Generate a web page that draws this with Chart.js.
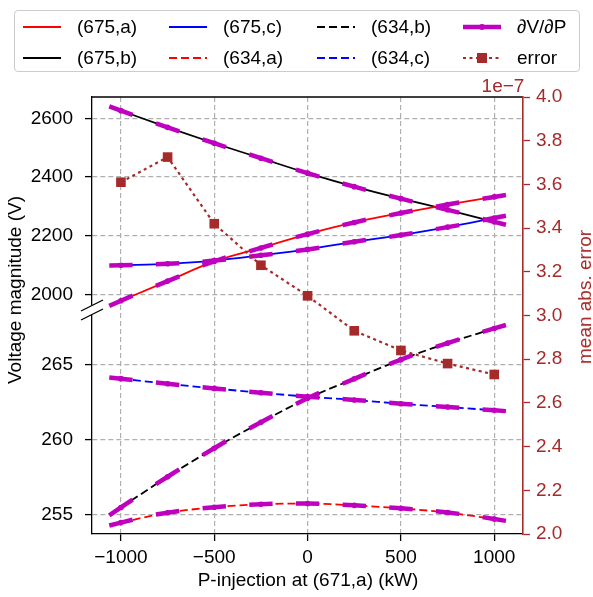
<!DOCTYPE html>
<html>
<head>
<meta charset="utf-8">
<script src="https://cdn.jsdelivr.net/npm/chart.js@4.4.1/dist/chart.umd.min.js"></script>
<style>
  body { margin: 0; background: #fff; font-family: "Liberation Sans", Arial, sans-serif; }
  #wrap { position: relative; width: 593px; height: 597px; overflow: hidden; }
  #chart { position: absolute; left: 0; top: 0; }
  #legend { position: absolute; left: 14px; top: 10px; width: 566px; height: 62px; box-sizing: border-box;
            border: 1px solid #cccccc; border-radius: 4px; background: rgba(255,255,255,0.8); }
  .item { position: absolute; height: 20px; }
  .item svg { position: absolute; left: 0; top: 0; }
  .item span { position: absolute; left: 54px; top: 0; font-size: 19px; line-height: 20px; white-space: nowrap; color: #000; }
  .lbl { position: absolute; font-size: 19px; line-height: 20px; white-space: nowrap; }
</style>
</head>
<body>
<div id="wrap">
  <canvas id="chart" width="593" height="597"></canvas>
  <div id="legend"></div>
  <div class="lbl" id="ylab" style="left:15px; top:290px; transform: translate(-50%,-50%) rotate(-90deg);">Voltage magnitude (V)</div>
  <div class="lbl" id="ylab2" style="left:585px; top:297px; color:#a52a2a; transform: translate(-50%,-50%) rotate(-90deg);">mean abs. error</div>
  <div class="lbl" id="xlab" style="left:308px; top:580px; transform: translate(-50%,-50%);">P-injection at (671,a) (kW)</div>
  <div class="lbl" id="offs" style="left:503px; top:86px; color:#a52a2a; transform: translate(-50%,-50%);">1e&minus;7</div>
</div>
<script>
// --- DADOS ---
const xVals = [-1000, -750, -500, -250, 0, 250, 500, 750, 1000];

// feeder 675 (painel de cima)
const v675a = [1978, 2045, 2112, 2158, 2205, 2245, 2277, 2306, 2332];
const v675b = [2626, 2569, 2515, 2464, 2413, 2367, 2326, 2288, 2247];
const v675c = [2099, 2104, 2115, 2133, 2153, 2179, 2202, 2229, 2260];

// feeder 634 (painel de baixo)
const v634a = [254.49, 255.15, 255.51, 255.71, 255.76, 255.64, 255.44, 255.16, 254.73];
const v634b = [255.50, 257.55, 259.45, 261.18, 262.78, 264.08, 265.36, 266.46, 267.44];
const v634c = [264.09, 263.75, 263.44, 263.15, 262.89, 262.67, 262.42, 262.20, 261.98];

const d675a = [0.28, 0.26, 0.22, 0.19, 0.165, 0.145, 0.125, 0.115, 0.105];
const d675b = [-0.235, -0.222, -0.21, -0.204, -0.194, -0.174, -0.158, -0.155, -0.16];
const d675c = [0.01, 0.03, 0.058, 0.075, 0.09, 0.097, 0.1, 0.11, 0.12];
const d634a = [0.0031, 0.0019, 0.0011, 0.0005, -0.0002, -0.0006, -0.001, -0.0014, -0.002];
const d634b = [0.0084, 0.0079, 0.0074, 0.0067, 0.006, 0.0053, 0.0047, 0.0041, 0.0037];
const d634c = [-0.00136, -0.0013, -0.0012, -0.0011, -0.001, -0.00095, -0.0009, -0.00088, -0.00088];

const errVals = [3.61e-7, 3.725e-7, 3.42e-7, 3.23e-7, 3.09e-7, 2.93e-7, 2.84e-7, 2.78e-7, 2.73e-7];

const xTicks = [-1000, -500, 0, 500, 1000];
const topTicks = [2000, 2200, 2400, 2600];
const botTicks = [255, 260, 265];
const errTicks = [2.0e-7, 2.2e-7, 2.4e-7, 2.6e-7, 2.8e-7, 3.0e-7, 3.2e-7, 3.4e-7, 3.6e-7, 3.8e-7, 4.0e-7];

const HALF = 62.5; // meia largura do segmento tangente (kW)

// --- CORES / ESTILO ---
const BROWN = '#a52a2a';
const MAG = '#bf00bf';
const FONT = { family: '"Liberation Sans", Arial, sans-serif', size: 19 };

// --- LEGENDA (HTML) ---
const legendItems = [
  { label: '(675,a)', color: '#ff0000', dash: '' },
  { label: '(675,b)', color: '#000000', dash: '' },
  { label: '(675,c)', color: '#0000ff', dash: '' },
  { label: '(634,a)', color: '#ff0000', dash: '8,4' },
  { label: '(634,b)', color: '#000000', dash: '8,4' },
  { label: '(634,c)', color: '#0000ff', dash: '8,4' },
  { label: '\u2202V/\u2202P', color: MAG, dash: '', width: 4.5, marker: 'circle' },
  { label: 'error', color: BROWN, dash: '3,3.5', marker: 'square' }
];
const colX = [22, 168, 316, 462];
const rowY = [16, 47];

const legendBox = document.getElementById('legend');
legendItems.forEach((it, k) => {
  const col = Math.floor(k / 2), row = k % 2;
  const div = document.createElement('div');
  div.className = 'item';
  div.style.left = (colX[col] - 14) + 'px';
  div.style.top = (rowY[row] - 10) + 'px';
  let mk = '';
  if (it.marker === 'circle') mk = `<circle cx="19" cy="10" r="3" fill="${it.color}"/>`;
  if (it.marker === 'square') mk = `<rect x="14" y="5" width="10" height="10" fill="${it.color}"/>`;
  div.innerHTML = `<svg width="40" height="20"><line x1="0" y1="10" x2="38" y2="10" stroke="${it.color}"
      stroke-width="${it.width || 2}" ${it.dash ? `stroke-dasharray="${it.dash}"` : ''}/>${mk}</svg><span>${it.label}</span>`;
  legendBox.appendChild(div);
});

// --- DATASETS ---
const pts = vals => xVals.map((x, i) => ({ x: x, y: vals[i] }));

function tangentes(pares) {
  const out = [];
  pares.forEach(([vals, dv]) => {
    xVals.forEach((x, i) => {
      out.push({ x: x - HALF, y: vals[i] - dv[i] * HALF });
      out.push({ x: x, y: vals[i], mid: true });
      out.push({ x: x + HALF, y: vals[i] + dv[i] * HALF });
      out.push({ x: x, y: null });
    });
  });
  return out;
}

function linha(vals, cor, eixo, dash) {
  return {
    data: pts(vals), yAxisID: eixo, borderColor: cor, borderWidth: 1.8,
    borderDash: dash || [], pointRadius: 0, cubicInterpolationMode: 'monotone', order: 2
  };
}

function magenta(pares, eixo) {
  return {
    data: tangentes(pares), yAxisID: eixo, borderColor: MAG, backgroundColor: MAG, borderWidth: 4.5,
    pointRadius: c => (c.raw && c.raw.mid ? 2.8 : 0), pointBorderWidth: 0, pointBackgroundColor: MAG,
    spanGaps: false, tension: 0, order: 1
  };
}

const datasets = [
  {
    data: pts(errVals), yAxisID: 'yErr', borderColor: BROWN, borderWidth: 2.2, borderDash: [3, 3.5],
    pointStyle: 'rect', pointRadius: 6.8, pointBackgroundColor: BROWN, pointBorderColor: BROWN,
    pointBorderWidth: 0, order: 0
  },
  magenta([[v675a, d675a], [v675b, d675b], [v675c, d675c]], 'yTop'),
  magenta([[v634a, d634a], [v634b, d634b], [v634c, d634c]], 'yBot'),
  linha(v675a, '#ff0000', 'yTop'),
  linha(v675b, '#000000', 'yTop'),
  linha(v675c, '#0000ff', 'yTop'),
  linha(v634a, '#ff0000', 'yBot', [8, 4]),
  linha(v634b, '#000000', 'yBot', [8, 4]),
  linha(v634c, '#0000ff', 'yBot', [8, 4])
];

const gridPadrao = { color: '#b0b0b0', lineWidth: 1.2, tickLength: 7, tickColor: '#000', tickWidth: 1.3 };
const bordaPadrao = { color: '#000', width: 1.3, dash: [5, 3] };

// moldura de cima + marcas de quebra do eixo
const molduraPlugin = {
  id: 'moldura',
  afterDraw(chart) {
    const { ctx, chartArea: a, scales } = chart;
    const yb = scales.yTop.bottom;
    ctx.save();
    ctx.strokeStyle = '#000';
    ctx.lineWidth = 1.3;
    ctx.beginPath();
    ctx.moveTo(a.left, a.top);
    ctx.lineTo(a.right - 1, a.top);
    ctx.stroke();
    ctx.fillStyle = '#fff';
    ctx.fillRect(a.left - 2, yb - 5, 4, 10);
    [-4.5, 4.5].forEach(off => {
      ctx.beginPath();
      ctx.moveTo(a.left - 11, yb + off + 5.5);
      ctx.lineTo(a.left + 11, yb + off - 5.5);
      ctx.stroke();
    });
    ctx.restore();
  }
};

new Chart(document.getElementById('chart'), {
  type: 'line',
  data: { datasets },
  options: {
    responsive: false,
    animation: false,
    devicePixelRatio: 1,
    events: [],
    layout: { padding: { top: 97, left: 0, right: 0, bottom: 0 } },
    plugins: { legend: { display: false }, tooltip: { enabled: false } },
    scales: {
      x: {
        type: 'linear', min: -1155, max: 1154,
        afterBuildTicks: s => { s.ticks = xTicks.map(v => ({ value: v })); },
        afterFit: s => { s.height = 63; },
        ticks: { font: FONT, color: '#000', padding: 5, maxRotation: 0,
                 callback: v => (v < 0 ? '\u2212' + Math.abs(v) : String(v)) },
        grid: gridPadrao, border: bordaPadrao
      },
      yBot: {
        type: 'linear', position: 'left', stack: 'v', stackWeight: 224,
        min: 253.73, max: 268.67,
        afterBuildTicks: s => { s.ticks = botTicks.map(v => ({ value: v })); },
        afterFit: s => { s.width = 92; },
        ticks: { font: FONT, color: '#000', padding: 12, callback: v => String(v) },
        grid: gridPadrao, border: bordaPadrao
      },
      yTop: {
        type: 'linear', position: 'left', stack: 'v', stackWeight: 213,
        min: 1946.5, max: 2672.6,
        afterBuildTicks: s => { s.ticks = topTicks.map(v => ({ value: v })); },
        afterFit: s => { s.width = 92; },
        ticks: { font: FONT, color: '#000', padding: 12, callback: v => String(v) },
        grid: gridPadrao, border: bordaPadrao
      },
      yErr: {
        type: 'linear', position: 'right', min: 2.0e-7, max: 4.0e-7,
        afterBuildTicks: s => { s.ticks = errTicks.map(v => ({ value: v })); },
        afterFit: s => { s.width = 70; },
        ticks: { font: FONT, color: BROWN, padding: 6, callback: v => (v / 1e-7).toFixed(1) },
        grid: { drawOnChartArea: false, tickLength: 7, tickColor: BROWN, tickWidth: 1.3 },
        border: { color: BROWN, width: 1.6 }
      }
    }
  },
  plugins: [molduraPlugin]
});
</script>
</body>
</html>
